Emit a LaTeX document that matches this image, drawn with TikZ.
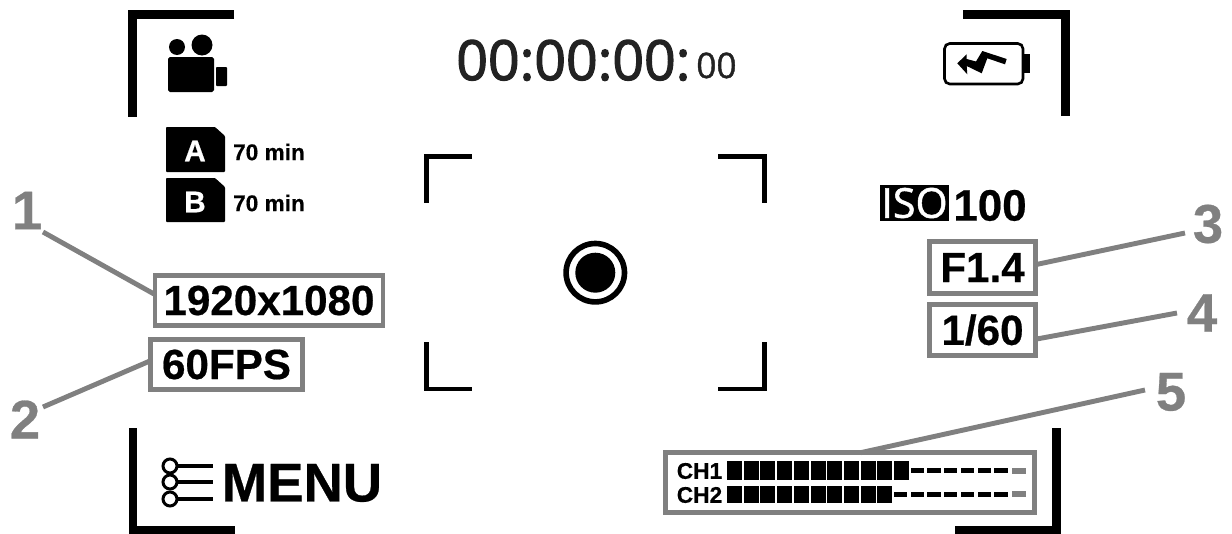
\documentclass[tikz,border=0pt]{standalone}
\usepackage{fontspec}
\setmainfont[BoldFeatures={FakeBold=0.5}]{Liberation Sans}
\newfontfamily\isofont[FakeBold=1.2]{Open Sans}
\newfontfamily\clockfont[FakeBold=2.2]{Open Sans}
\definecolor{calloutgray}{HTML}{808080}
\definecolor{clockgray}{HTML}{222222}
\tikzset{
  frame/.style={line width=5.1pt},
  focus/.style={line width=2.66pt},
  leader/.style={calloutgray,line width=2.8pt},
  callbox/.style={draw=calloutgray,line width=2.8pt,inner sep=0pt,outer sep=0pt,font=\fontsize{24}{24}\selectfont\bfseries},
  callnum/.style={calloutgray,font=\fontsize{31}{31}\selectfont\bfseries},
  small/.style={font=\fontsize{12.9}{13}\selectfont\bfseries},
}
\begin{document}
\begin{tikzpicture}[x=0.02cm,y=-0.02cm]
\useasboundingbox (0,0) rectangle (1232,534);

% outer corners
\draw[frame](234,14.5)--(132.5,14.5)--(132.5,117);
\draw[frame](963,14.5)--(1065.5,14.5)--(1065.5,116);
\draw[frame](133,428)--(133,530.5)--(235,530.5);
\draw[frame](955,530.5)--(1056.5,530.5)--(1056.5,428);

% focus corners
\draw[focus](472,156.5)--(426.3,156.5)--(426.3,203);
\draw[focus](718,156.5)--(764.4,156.5)--(764.4,203);
\draw[focus](426.3,342)--(426.3,389)--(472,389);
\draw[focus](718,389)--(764.4,389)--(764.4,342);
\draw[line width=3.2pt](595.3,272.7) circle (29.2);
\fill(595.3,272.7) circle (20);

% camera
\fill(177,47) circle (8);
\fill(202,45) circle (10.5);
\fill[rounded corners=1pt](168,57) rectangle (214,92);
\fill[rounded corners=0.5pt](216,67) rectangle (227,86);

% cards
\fill[rounded corners=0.5pt](166,127)--(215,127)--(225,136)--(225,172)--(166,172)--cycle;
\fill[rounded corners=0.5pt](166,178)--(215,178)--(225,187)--(225,222)--(166,222)--cycle;
\node[white,font=\fontsize{17}{17}\selectfont\bfseries] (carda) at(195,151) {A};
\node[white,font=\fontsize{17}{17}\selectfont\bfseries] (cardb) at(195,202) {B};
\node[small] (timea) at(269,152) {70 min};
\node[small] (timeb) at(269,203) {70 min};

% timecode
\node[clockgray,anchor=base west,inner sep=0pt,font=\clockfont\fontsize{31.5}{32}\selectfont] (clock) at(456,80) {00:00:00:};
\node[clockgray,anchor=base west,inner sep=0pt,font=\isofont\fontsize{20}{20}\selectfont] (frames) at(696,78) {00};

% battery
\draw[line width=1.5pt,rounded corners=3pt](944.5,43.5) rectangle (1023,84);
\fill(1024,54) rectangle (1030,73);
\fill(957.3,63.3)--(966.7,54.3)--(966.7,59)--(976,61.5)--(982.3,51)--(1006.7,59)--(1005,64.3)--(987.3,58.3)--(981.7,73.3)--(966.7,66)--(967.3,74.3)--cycle;

% exposure
\node[fill=black,text=white,inner sep=0pt,minimum width=39.1pt,minimum height=20.4pt,font=\isofont\fontsize{23.5}{24}\selectfont] (iso) at(914.5,203) {ISO};
\node[font=\fontsize{25}{25}\selectfont\bfseries] (isoval) at(990,205.5) {100};

% boxed values
\node[callbox,minimum width=129.8pt,minimum height=28.3pt] (boxres) at(269,300.5) {1920x1080};
\node[callbox,minimum width=86pt,minimum height=28.3pt] (boxfps) at(226.5,364.5) {60FPS};
\node[callbox,minimum width=60pt,minimum height=29.5pt] (boxfno) at(982.5,267.5) {F1.4};
\node[callbox,minimum width=60pt,minimum height=29pt] (boxshut) at(982.5,330) {1/60};
\node[draw=calloutgray,line width=2.8pt,inner sep=0pt,outer sep=0pt,minimum width=210.3pt,minimum height=34pt] (boxaudio) at(850,482.5) {};

% audio meter
\node[small] (chone) at(699.5,471) {CH1};
\node[small] (chtwo) at(699.5,495) {CH2};
\foreach \i in {0,...,10}{
  \fill({727+\i*16.7},461) rectangle ({742+\i*16.7},480);
}
\foreach \i in {0,...,9}{
  \fill({727+\i*16.7},486) rectangle ({742+\i*16.7},503);
}
\foreach \i in {0,...,5}{
  \fill({910.7+\i*16.7},468.2) rectangle ({924+\i*16.7},473.2);
}
\foreach \i in {0,...,6}{
  \fill({894+\i*16.7},491.5) rectangle ({907.3+\i*16.7},496.5);
}
\fill[calloutgray](1011.7,467.7) rectangle (1025.7,473.7);
\fill[calloutgray](1011.7,491) rectangle (1025.7,497);

% menu
\draw[line width=1.9pt](170,466)--(213,466);
\draw[line width=1.9pt](170,482)--(213,482);
\draw[line width=1.9pt](170,499)--(213,499);
\foreach \y in {466,482,499}{
  \draw[line width=1.7pt,fill=white](170,\y) circle (7);
}
\node[font=\fontsize{31}{31}\selectfont\bfseries] (menu) at(302,483) {MENU};

% callouts
\node[callnum] (numone) at(27,210.5) {1};
\node[callnum] (numtwo) at(25,419.5) {2};
\node[callnum] (numthree) at(1208,224) {3};
\node[callnum] (numfour) at(1202,313) {4};
\node[callnum] (numfive) at(1171,392) {5};
\coordinate (leadone) at(43,232);
\coordinate (leadtwo) at(43,407);
\coordinate (leadthree) at(1185,233);
\coordinate (leadfour) at(1177,313);
\coordinate (leadfive) at(1145,390);
\draw[leader](leadone)--(boxres.177);
\draw[leader](leadtwo)--(boxfps.177);
\draw[leader](leadthree)--(boxfno.3);
\draw[leader](leadfour)--(boxshut.-10);
\draw[leader](leadfive)--(boxaudio.70);

\end{tikzpicture}
\end{document}
